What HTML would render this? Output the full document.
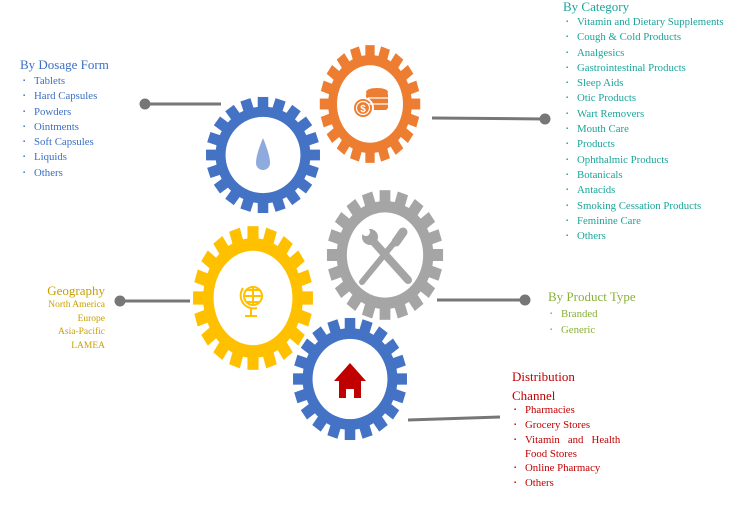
<!DOCTYPE html>
<html><head><meta charset="utf-8"><style>
body{margin:0;width:741px;height:510px;background:#fff;position:relative;overflow:hidden;font-family:"Liberation Serif",serif}
.t{position:absolute;white-space:nowrap}
.h{font-size:13px}
.i{font-size:10.8px;line-height:15.3px}
ul{list-style:none;margin:0;padding:0}
li{position:relative}
li:before{content:"▪";position:absolute;left:-11px;font-size:6px}
</style></head><body>
<svg width="741" height="510" style="position:absolute;left:0;top:0">
<defs>
<g id="tooth"><rect x="-5" y="-54" width="10" height="14"/></g>
<g id="gear">
<circle r="45"/>
<use href="#tooth"/><use href="#tooth" transform="rotate(18)"/><use href="#tooth" transform="rotate(36)"/><use href="#tooth" transform="rotate(54)"/><use href="#tooth" transform="rotate(72)"/><use href="#tooth" transform="rotate(90)"/><use href="#tooth" transform="rotate(108)"/><use href="#tooth" transform="rotate(126)"/><use href="#tooth" transform="rotate(144)"/><use href="#tooth" transform="rotate(162)"/><use href="#tooth" transform="rotate(180)"/><use href="#tooth" transform="rotate(198)"/><use href="#tooth" transform="rotate(216)"/><use href="#tooth" transform="rotate(234)"/><use href="#tooth" transform="rotate(252)"/><use href="#tooth" transform="rotate(270)"/><use href="#tooth" transform="rotate(288)"/><use href="#tooth" transform="rotate(306)"/><use href="#tooth" transform="rotate(324)"/><use href="#tooth" transform="rotate(342)"/>
<circle r="35.5" fill="#fff"/>
</g>
</defs>
<g stroke="#777" stroke-width="3" fill="#777">
<line x1="145" y1="104" x2="221" y2="104"/><circle cx="145" cy="104" r="4"/>
<line x1="432" y1="118" x2="545" y2="119"/><circle cx="545" cy="119" r="4"/>
<line x1="120" y1="301" x2="190" y2="301"/><circle cx="120" cy="301" r="4"/>
<line x1="437" y1="300" x2="525" y2="300"/><circle cx="525" cy="300" r="4"/>
<line x1="408" y1="420" x2="500" y2="417"/>
</g>
<use href="#gear" fill="#4472c4" transform="translate(263,155) scale(1.055,1.075)"/>
<use href="#gear" fill="#ed7d31" transform="translate(370,104) scale(0.93,1.09)"/>
<use href="#gear" fill="#a5a5a5" transform="translate(385,255) scale(1.075,1.2)"/>
<use href="#gear" fill="#ffc000" transform="translate(253,298) scale(1.11,1.33)"/>
<use href="#gear" fill="#4472c4" transform="translate(350,379) scale(1.055,1.13)"/>
<path d="M263,138 C258,150 256,158 256,163 A7,7 0 0 0 270,163 C270,158 268,150 263,138Z" fill="#8faadc"/>
<g fill="#ed7d31">
<ellipse cx="377" cy="92" rx="11" ry="4"/><rect x="366" y="92" width="22" height="18" rx="3"/>
<circle cx="363" cy="108" r="10" stroke="#fff" stroke-width="2"/>
</g>
<g stroke="#fff" stroke-width="1.2" fill="none"><line x1="368" y1="98" x2="388" y2="98"/><line x1="368" y1="104" x2="388" y2="104"/><circle cx="363" cy="108" r="6.5"/></g>
<text x="363" y="112" font-size="10" font-family="Liberation Sans" fill="#fff" text-anchor="middle" font-weight="bold">$</text>
<g stroke="#a5a5a5" stroke-linecap="round">
<line x1="372" y1="240" x2="408" y2="280" stroke-width="8"/>
<line x1="398" y1="238" x2="362" y2="282" stroke-width="6"/>
<line x1="403" y1="232" x2="396" y2="242" stroke-width="9"/>
</g>
<circle cx="370" cy="237" r="8" fill="#a5a5a5"/><circle cx="366" cy="232" r="4" fill="#fff"/>
<g stroke="#ffc000" fill="none" stroke-width="2">
<circle cx="253" cy="296" r="9"/><path d="M244,296h18M253,287v18M247,290h12M247,302h12"/>
<path d="M243,288a13,13 0 0 0 14,20"/><line x1="251" y1="309" x2="251" y2="316"/><line x1="245" y1="316" x2="257" y2="316"/>
</g>
<path d="M350,363 L334,381 L339,381 L339,398 L346,398 L346,389 L354,389 L354,398 L361,398 L361,381 L366,381Z" fill="#c00000"/>
</svg>

<div class="t h" style="left:20px;top:57px;color:#3a6fc4">By Dosage Form</div>
<ul class="t i" style="left:34px;top:74px;color:#3a6fc4"><li>Tablets</li><li>Hard Capsules</li><li>Powders</li><li>Ointments</li><li>Soft Capsules</li><li>Liquids</li><li>Others</li></ul>

<div class="t h" style="left:563px;top:-1px;color:#1aa59a">By Category</div>
<ul class="t i" style="left:577px;top:15px;color:#1aa59a"><li>Vitamin and Dietary Supplements</li><li>Cough &amp; Cold Products</li><li>Analgesics</li><li>Gastrointestinal Products</li><li>Sleep Aids</li><li>Otic Products</li><li>Wart Removers</li><li>Mouth Care</li><li>Products</li><li>Ophthalmic Products</li><li>Botanicals</li><li>Antacids</li><li>Smoking Cessation Products</li><li>Feminine Care</li><li>Others</li></ul>

<div class="t" style="right:636px;top:283px;color:#c9a000;text-align:right">
<div style="font-size:13px">Geography</div>
<div style="font-size:9.5px;line-height:13.5px">North America<br>Europe<br>Asia-Pacific<br>LAMEA</div></div>

<div class="t h" style="left:548px;top:289px;color:#8ab03a">By Product Type</div>
<ul class="t i" style="left:561px;top:306px;color:#8ab03a;line-height:16px"><li>Branded</li><li>Generic</li></ul>

<div class="t h" style="left:512px;top:367px;color:#c00000;line-height:19px">Distribution<br>Channel</div>
<ul class="t i" style="left:525px;top:403px;color:#c00000;line-height:15px"><li>Pharmacies</li><li>Grocery Stores</li><li style="line-height:14px">Vitamin &nbsp;&nbsp;and &nbsp;&nbsp;Health<br>Food Stores</li><li>Online Pharmacy</li><li>Others</li></ul>
</body></html>
